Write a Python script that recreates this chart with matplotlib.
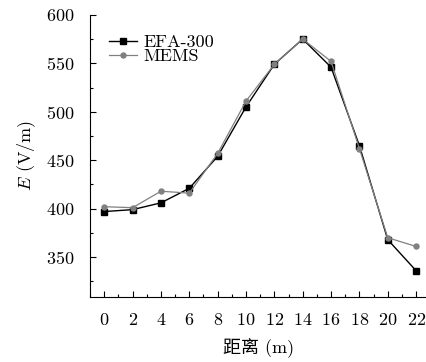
import matplotlib.pyplot as plt
from matplotlib.ticker import MultipleLocator

plt.rcParams.update({
    "font.family": ["cmr10", "Noto Sans CJK SC"],
    "mathtext.fontset": "cm",
    "axes.formatter.use_mathtext": True,
    "font.size": 13,
})

# dados
distancia = [0, 2, 4, 6, 8, 10, 12, 14, 16, 18, 20, 22]
efa300 = [397, 399, 406, 421, 454, 505, 549, 575, 546, 465, 368, 336]
mems = [402, 401, 418, 416, 457, 511, 549, 575, 552, 462, 370, 361]

fig = plt.figure(figsize=(4.27, 3.62), dpi=100)
ax = fig.add_axes([0.211, 0.18, 0.79, 0.779])

ax.plot(distancia, efa300, color="black", lw=1.0, marker="s", ms=3.8,
        label="EFA-300")
ax.plot(distancia, mems, color="#808080", lw=0.9, marker="o", ms=3.6,
        label="MEMS")

ax.set_xlim(-1, 22.8)
ax.set_ylim(309, 600)
ax.set_xticks(distancia)
ax.xaxis.set_minor_locator(MultipleLocator(1))
ax.yaxis.set_minor_locator(MultipleLocator(25))
ax.set_yticks([350, 400, 450, 500, 550, 600])

for s in ["top", "right"]:
    ax.spines[s].set_visible(False)
ax.tick_params(which="both", direction="in", width=0.8)
ax.tick_params(which="major", length=4, pad=11)
ax.tick_params(which="minor", length=2.5)

ax.set_xlabel("距离 (m)", labelpad=7)
ax.set_ylabel("$E$ (V/m)", labelpad=6)

ax.legend(loc="upper left", bbox_to_anchor=(0.02, 0.975), frameon=False,
          handlelength=1.5, borderaxespad=0.3, labelspacing=-0.1,
          handletextpad=0.4)

fig.savefig("out.png", dpi=100)
